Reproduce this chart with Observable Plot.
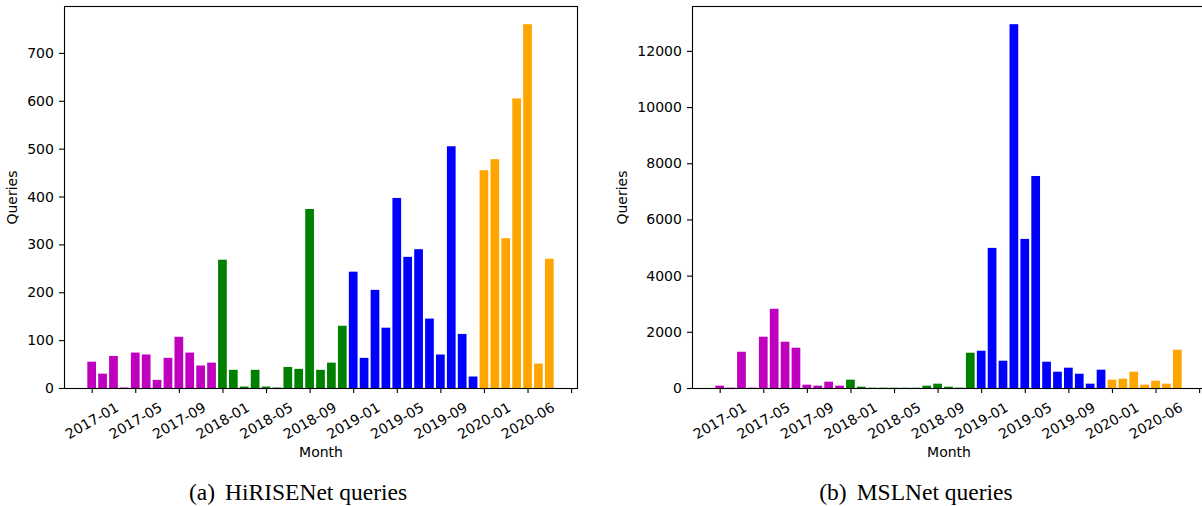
<!DOCTYPE html>
<html><head><meta charset="utf-8">
<script src="https://cdn.jsdelivr.net/npm/d3@7"></script>
<script src="https://cdn.jsdelivr.net/npm/@observablehq/plot@0.6"></script>
<style>
body{margin:0;background:#fff;}
#wrap{position:relative;width:1202px;height:506px;overflow:hidden;background:#fff;}
.panel{position:absolute;top:0;}
.panel svg{max-width:none !important;display:block;}
.cap{position:absolute;font-family:"Liberation Serif","Times New Roman",serif;font-size:23.5px;line-height:23px;white-space:pre;color:#000;transform:translateX(-50%);}
.cap .lab{margin-right:10px;}
</style></head><body>
<div id="wrap">
  <div class="panel" id="pa" style="left:0px;width:600px"></div>
  <div class="panel" id="pb" style="left:600px;width:606px"></div>
  <div class="cap" style="left:298px;top:481px"><span class="lab">(a)</span>HiRISENet queries</div>
  <div class="cap" style="left:916px;top:481px"><span class="lab">(b)</span>MSLNet queries</div>
</div>
<script>
const months = [
  "2017-01","2017-02","2017-03","2017-04","2017-05","2017-06","2017-07","2017-08","2017-09","2017-10","2017-11","2017-12",
  "2018-01","2018-02","2018-03","2018-04","2018-05","2018-06","2018-07","2018-08","2018-09","2018-10","2018-11","2018-12",
  "2019-01","2019-02","2019-03","2019-04","2019-05","2019-06","2019-07","2019-08","2019-09","2019-10","2019-11","2019-12",
  "2020-01","2020-02","2020-03","2020-05","2020-06","2020-07","2020-08"
];
const hiriseQueries = [
  55,30,67,1,74,70,17,63,107,74,47,53,
  268,38,3,38,3,1,44,40,374,38,53,130,
  243,63,205,126,397,274,290,145,70,505,113,24,
  455,478,313,605,760,51,270
];
const mslQueries = [
  83,12,1291,12,1825,2820,1647,1434,118,83,225,83,
  296,47,12,12,10,10,10,83,154,47,12,1256,
  1327,4988,972,12950,5308,7547,936,580,723,509,154,652,
  296,332,580,118,261,154,1363
];
const years = ["2017","2018","2019","2020"];
const yearColors = ["#bf00bf","#008000","#0000ff","#ffa500"];
const xTickIndex = [0,4,8,12,16,20,24,28,32,36,40,44];
const hiriseYTicks = [0,100,200,300,400,500,600,700];
const mslYTicks = [0,2000,4000,6000,8000,10000,12000];

function chart(values, yTicks, {width, marginLeft, marginRight, ylabelX}) {
  const data = months.map((m, i) => ({i, m, v: values[i], year: m.slice(0, 4)}));
  const fmt = i => months[i] ?? "";
  return Plot.plot({
    width, height: 470,
    marginLeft, marginRight, marginTop: 6, marginBottom: 82,
    style: {fontFamily: "DejaVu Sans", fontSize: "14px", color: "black", background: "white", overflow: "visible"},
    x: {type: "linear", domain: [-2.54, 44.54]},
    y: {domain: [0, d3.max(values) * 1.05]},
    color: {domain: years, range: yearColors},
    marks: [
      Plot.rect(data, {x1: d => d.i - 0.4, x2: d => d.i + 0.4, y1: () => 0, y2: "v", fill: "year"}),
      Plot.axisX({ticks: xTickIndex, tickFormat: fmt, tickSize: 5, tickRotate: -30, tickPadding: 27.5,
                  textAnchor: "middle", lineAnchor: "middle", label: null, strokeWidth: 1.1}),
      Plot.axisY({ticks: yTicks, tickFormat: d => String(d), tickSize: 5, tickPadding: 5.6, label: null, strokeWidth: 1.1}),
      Plot.frame({stroke: "black", strokeWidth: 1.1}),
      Plot.text(["Queries"], {frameAnchor: "left", dx: ylabelX - marginLeft, rotate: -90, text: d => d,
                              textAnchor: "middle", lineAnchor: "middle"}),
      Plot.text(["Month"], {frameAnchor: "bottom", dy: 64, text: d => d, textAnchor: "middle", lineAnchor: "middle"})
    ]
  });
}

document.getElementById("pa").append(chart(hiriseQueries, hiriseYTicks, {width: 600, marginLeft: 64, marginRight: 23, ylabelX: 12.5}));
document.getElementById("pb").append(chart(mslQueries, mslYTicks, {width: 606, marginLeft: 92, marginRight: 1, ylabelX: 22.5}));
</script>
</body></html>
